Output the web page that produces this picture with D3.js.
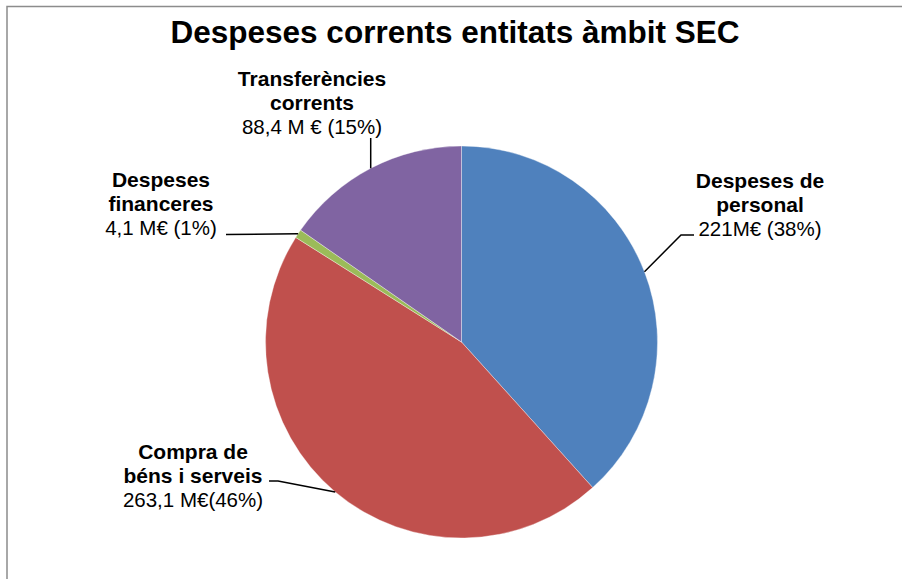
<!DOCTYPE html>
<html>
<head>
<meta charset="utf-8">
<script src="https://cdn.jsdelivr.net/npm/d3@7"></script>
<style>
  html, body { margin: 0; padding: 0; background: #fff; }
  svg { display: block; font-family: "Liberation Sans", Arial, sans-serif; }
</style>
</head>
<body>
<svg id="chart" width="902" height="579"></svg>
<script>
// Current spending of SEC-scope entities, millions of euros
const categories = ["Despeses de personal", "Compra de béns i serveis", "Despeses financeres", "Transferències corrents"];
const values = [221, 263.1, 4.1, 88.4];
const colors = ["#4F81BD", "#C0504D", "#9BBB59", "#8064A2"];
const labelTitles = [["Despeses de", "personal"], ["Compra de", "béns i serveis"], ["Despeses", "financeres"], ["Transferències", "corrents"]];
const labelValues = ["221M€ (38%)", "263,1 M€(46%)", "4,1 M€ (1%)", "88,4 M € (15%)"];
const chartTitle = "Despeses corrents entitats àmbit SEC";

const svg = d3.select("#chart");
const W = 902, H = 579;

// outer chart frame (open at right and bottom edges)
svg.append("rect")
  .attr("x", 7).attr("y", 6.5)
  .attr("width", W + 10).attr("height", H + 10)
  .attr("fill", "none").attr("stroke", "#8c8c8c").attr("stroke-width", 1.5);

svg.append("text")
  .attr("x", 455).attr("y", 43)
  .attr("text-anchor", "middle")
  .attr("font-size", 31.5).attr("font-weight", "bold")
  .attr("fill", "#000")
  .text(chartTitle);

const cx = 461.5, cy = 342, R = 196;
const g = svg.append("g").attr("transform", `translate(${cx},${cy})`);

const pie = d3.pie().value(d => d).sort(null);
const arcs = pie(values);
const arc = d3.arc().innerRadius(0).outerRadius(R);

g.selectAll("path.slice")
  .data(arcs)
  .join("path")
  .attr("class", "slice")
  .attr("d", arc)
  .attr("fill", (d, i) => colors[i])
  .attr("stroke", "rgba(255,255,255,0.45)")
  .attr("stroke-width", 0.8);

// label placement: block centre x, first baseline y, leader points (relative to text)
const labelLayout = [
  { x: 760, y: 188, leader: (p) => [p, [681, 235], [694, 235]] },
  { x: 193, y: 459, leader: (p) => [p, [278, 481], [269, 481]] },
  { x: 161, y: 187, leader: (p) => [p, [226, 234.5]] },
  { x: 312, y: 86,  leader: (p) => [p, [p[0], 138]] }
];

const lineH = 23.5;
arcs.forEach((d, i) => {
  const L = labelLayout[i];
  const mid = (d.startAngle + d.endAngle) / 2;
  const edge = [cx + R * Math.sin(mid), cy - R * Math.cos(mid)];
  const pts = L.leader(edge);
  svg.append("path")
    .attr("d", d3.line()(pts))
    .attr("fill", "none").attr("stroke", "#000").attr("stroke-width", 1.5);

  const t = svg.append("text")
    .attr("text-anchor", "middle")
    .attr("font-size", 21)
    .attr("fill", "#000");
  labelTitles[i].forEach((s, k) => {
    t.append("tspan").attr("x", L.x).attr("y", L.y + k * lineH)
      .attr("font-weight", "bold").text(s);
  });
  t.append("tspan").attr("x", L.x).attr("y", L.y + labelTitles[i].length * lineH + 1)
    .attr("font-size", 20.5).text(labelValues[i]);
});
</script>
</body>
</html>
